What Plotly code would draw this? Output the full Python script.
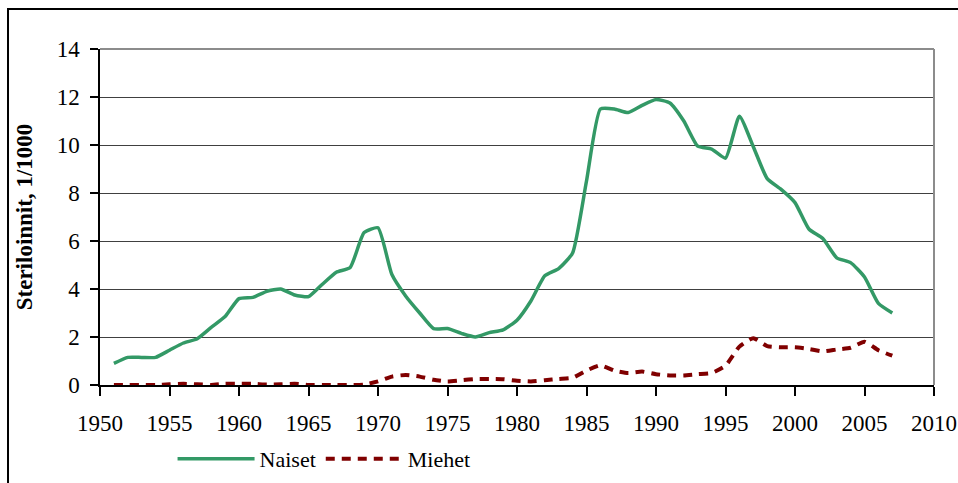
import plotly.graph_objects as go

years = list(range(1951, 2008))

naiset = [0.9, 1.15, 1.15, 1.15, 1.45, 1.75, 1.93, 2.4, 2.85, 3.6,
          3.65, 3.9, 4.0, 3.75, 3.68, 4.2, 4.7, 4.9, 6.35, 6.55,
          4.6, 3.7, 3.0, 2.35, 2.35, 2.15, 2.0, 2.18, 2.3, 2.7,
          3.5, 4.55, 4.85, 5.5, 8.5, 11.5, 11.5, 11.35, 11.65, 11.9,
          11.75, 11.0, 9.95, 9.83, 9.45, 11.2, 9.93, 8.6, 8.15, 7.6,
          6.5, 6.1, 5.3, 5.1, 4.5, 3.4, 3.0]

miehet = [0.0, 0.0, 0.0, 0.0, 0.03, 0.05, 0.03, 0.0, 0.05, 0.05,
          0.05, 0.02, 0.03, 0.05, 0.0, 0.0, 0.0, 0.0, 0.02, 0.15,
          0.35, 0.42, 0.35, 0.22, 0.15, 0.2, 0.25, 0.25, 0.24, 0.18,
          0.15, 0.2, 0.25, 0.3, 0.6, 0.82, 0.6, 0.5, 0.56, 0.45,
          0.4, 0.4, 0.45, 0.5, 0.8, 1.6, 1.95, 1.62, 1.57, 1.57,
          1.5, 1.4, 1.48, 1.55, 1.8, 1.45, 1.22]

x_ticks = list(range(1950, 2011, 5))
y_ticks = list(range(0, 15, 2))

FONT = "Liberation Serif"

fig = go.Figure()
fig.add_trace(go.Scatter(x=years, y=naiset, name="Naiset", mode="lines",
                         line=dict(color="#339966", width=3.5, shape="spline", smoothing=0.5)))
fig.add_trace(go.Scatter(x=years, y=miehet, name="Miehet", mode="lines",
                         line=dict(color="#800000", width=4, dash="9px,7px", shape="spline", smoothing=0.5)))

fig.update_layout(
    width=958, height=483,
    margin=dict(l=100, r=24, t=49, b=98, autoexpand=False),
    paper_bgcolor="white", plot_bgcolor="white",
    font=dict(family=FONT, size=22, color="black"),
    showlegend=True,
    legend=dict(orientation="h", x=0.087, xanchor="left", y=-0.22, yanchor="middle",
                font=dict(family=FONT, size=22, color="black"),
                itemwidth=77, bgcolor="rgba(0,0,0,0)", tracegroupgap=0),
    xaxis=dict(range=[1950, 2010], tickvals=x_ticks, ticktext=[str(v) for v in x_ticks],
               showgrid=False, zeroline=False, showline=True, linecolor="black", linewidth=1.5,
               ticks="outside", ticklen=9, tickcolor="black", tickwidth=1.5, automargin=False,
               ticklabelstandoff=8,
               tickfont=dict(family=FONT, size=23, color="black")),
    yaxis=dict(range=[0, 14], tickvals=y_ticks, showgrid=True, gridcolor="#404040", gridwidth=1,
               zeroline=False, showline=True, linecolor="black", linewidth=1.5,
               ticks="outside", ticklen=8, tickcolor="black", tickwidth=1.5, automargin=False,
               ticklabelstandoff=6,
               tickfont=dict(family=FONT, size=23, color="black"),
               title=dict(text="<b>Steriloinnit, 1/1000</b>", font=dict(family=FONT, size=23, color="black"),
                          standoff=18)),
    shapes=[
        dict(type="line", xref="paper", yref="paper", x0=0, x1=1, y0=1, y1=1,
             line=dict(color="#8c8c8c", width=2), layer="above"),
        dict(type="line", xref="paper", yref="paper", x0=1, x1=1, y0=0, y1=1,
             line=dict(color="#8c8c8c", width=2), layer="above"),
        dict(type="rect", xref="paper", yref="paper", x0=-0.1103, x1=1.04, y0=-0.32, y1=1.119,
             line=dict(color="black", width=2), fillcolor="rgba(0,0,0,0)", layer="below"),
    ],
)

fig.write_html("out.html", config={"displayModeBar": False},
               post_script="document.body.style.margin='0';document.body.style.overflow='hidden';")
